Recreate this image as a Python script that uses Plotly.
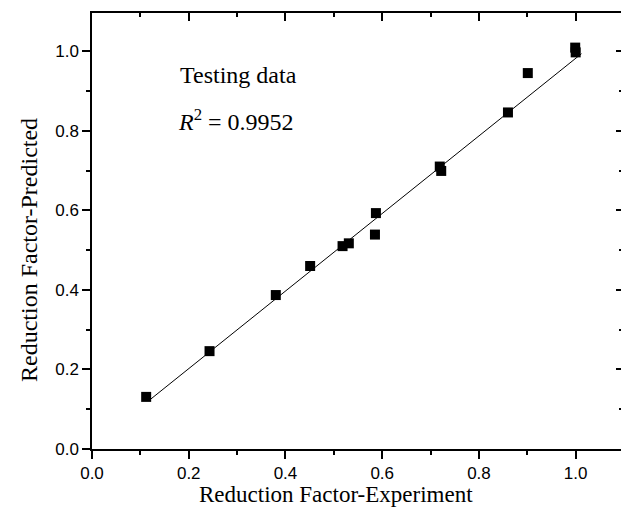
import plotly.graph_objects as go

# Data
experiment = [0.112, 0.243, 0.380, 0.451, 0.518, 0.531, 0.585, 0.587, 0.719, 0.722, 0.860, 0.901, 0.999, 1.000]
predicted = [0.131, 0.246, 0.387, 0.460, 0.510, 0.517, 0.539, 0.593, 0.710, 0.699, 0.846, 0.945, 1.009, 0.997]
fit_slope = 0.975
fit_intercept = 0.007
fit_x_range = [0.118, 1.012]
x_tick_vals = [0.0, 0.2, 0.4, 0.6, 0.8, 1.0]
y_tick_vals = [0.0, 0.2, 0.4, 0.6, 0.8, 1.0]
x_title = "Reduction Factor-Experiment"
y_title = "Reduction Factor-Predicted"
label_title = "Testing data"
label_r2 = "<i>R</i><sup>2</sup> = 0.9952"

fit_y = [fit_intercept + fit_slope * v for v in fit_x_range]

SERIF = "Liberation Serif, Times New Roman, serif"
SANS = "Liberation Sans, Arial, sans-serif"

fig = go.Figure()
fig.add_trace(go.Scatter(x=fit_x_range, y=fit_y, mode="lines",
                         line=dict(color="black", width=1), showlegend=False, hoverinfo="skip"))
fig.add_trace(go.Scatter(x=experiment, y=predicted, mode="markers",
                         marker=dict(symbol="square", size=10, color="black", line=dict(width=0)),
                         showlegend=False))
fig.add_trace(go.Scatter(x=[], y=[], xaxis="x2", yaxis="y2", showlegend=False))

XR = [0, 1.0937]
YR = [0, 1.096]

common = dict(showgrid=False, zeroline=False, linecolor="black", linewidth=1.5,
              tickcolor="black", tickwidth=1.5, automargin=False)

fig.update_layout(
    width=621, height=515,
    margin=dict(l=92, r=0, t=13, b=66),
    paper_bgcolor="white", plot_bgcolor="white",
    xaxis=dict(range=XR, tickvals=x_tick_vals, tickformat=".1f", ticks="outside", ticklen=8,
               showline=True, tickfont=dict(family=SANS, size=17, color="black"),
               minor=dict(dtick=0.1, ticks="outside", ticklen=4, tickcolor="black", tickwidth=1.5),
               **common),
    yaxis=dict(range=YR, tickvals=y_tick_vals, tickformat=".1f", ticks="outside", ticklen=8,
               showline=True, tickfont=dict(family=SANS, size=17, color="black"),
               minor=dict(dtick=0.1, ticks="outside", ticklen=4, tickcolor="black", tickwidth=1.5),
               **common),
    xaxis2=dict(range=XR, overlaying="x", side="top", anchor="y2", tickvals=x_tick_vals, ticks="inside", ticklen=8,
                showticklabels=False, showline=True,
                minor=dict(dtick=0.1, ticks="inside", ticklen=4, tickcolor="black", tickwidth=1.5),
                **common),
    yaxis2=dict(range=YR, overlaying="y", side="right", anchor="x2", tickvals=y_tick_vals, ticks="inside", ticklen=5,
                showticklabels=False, showline=False,
                minor=dict(dtick=0.1, ticks="inside", ticklen=2, tickcolor="black", tickwidth=1.5),
                **common),
    annotations=[
        dict(x=0.177, y=0.939, xref="x", yref="y", text=label_title, showarrow=False,
             xanchor="left", yanchor="middle", font=dict(family=SERIF, size=24, color="black")),
        dict(x=0.173, y=0.826, xref="x", yref="y", text=label_r2, showarrow=False,
             xanchor="left", yanchor="middle", font=dict(family=SERIF, size=24, color="black")),
        dict(x=(336 - 92) / 529, y=(449 - 495) / 436, xref="paper", yref="paper", text=x_title, showarrow=False,
             xanchor="center", yanchor="middle", font=dict(family=SERIF, size=23, color="black")),
        dict(x=-63 / 529, y=(449 - 250) / 436, xref="paper", yref="paper", text=y_title, showarrow=False,
             textangle=-90, xanchor="center", yanchor="middle", font=dict(family=SERIF, size=24, color="black")),
    ],
)

fig.write_html("out.html", config={"displayModeBar": False},
               post_script="document.body.style.margin='0';document.body.style.overflow='hidden';")
